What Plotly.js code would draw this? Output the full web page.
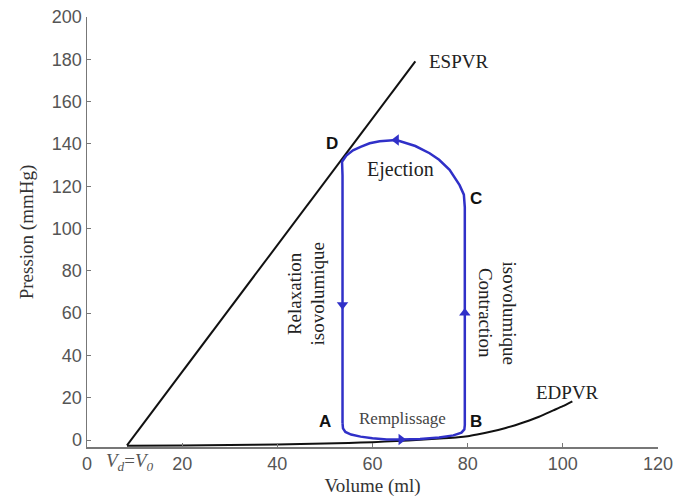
<!DOCTYPE html>
<html>
<head>
<meta charset="utf-8">
<script src="https://cdn.plot.ly/plotly-3.0.1.min.js"></script>
<style>html,body{margin:0;padding:0;background:#fff;}#chart{width:678px;height:502px;}</style>
</head>
<body>
<div id="chart"></div>
<script>
// ESPVR (end-systolic pressure-volume relation)
var espvrVolume = [8.4, 69];
var espvrPressure = [-2.5, 179];

// EDPVR (end-diastolic pressure-volume relation)
var edpvrVolume = [8.4, 20, 30, 40, 50, 55, 60, 65, 70, 75, 78, 80, 82, 85, 88, 90, 92, 95, 98, 100, 102];
var edpvrPressure = [-2.7, -2.6, -2.4, -2.1, -1.7, -1.4, -1.0, -0.5, 0.1, 0.8, 1.3, 1.8, 2.6, 4.0, 5.7, 7.0, 8.5, 11.0, 14.0, 16.0, 18.3];

// Pressure-volume loop (A -> B -> C -> D -> A)
var loopVolume = [53.7, 53.8, 54.3, 55.5, 57.5, 60, 63, 66, 70, 74, 77, 78.7, 79.3, 79.4, 79.4, 79.2, 78.3, 76.2, 74, 72, 69, 65, 61.5, 59.4, 57.5, 55.9, 54.5, 53.6, 53.7, 53.7];
var loopPressure = [8, 5.5, 3.8, 2.6, 1.6, 0.8, 0.3, 0.2, 0.5, 1.2, 2.2, 3.5, 5, 7, 110, 116, 120.5, 127.7, 132.5, 135.6, 139, 141.8, 141.3, 140.3, 138.6, 137, 134.5, 131.6, 125, 8];

// direction arrows on the loop
var arrowVolume = [66, 79.4, 65, 53.7];
var arrowPressure = [0.2, 60, 141.8, 64];
var arrowSymbols = ['triangle-right', 'triangle-up', 'triangle-left', 'triangle-down'];

// point labels
var pointNames = ['A', 'B', 'C', 'D'];
var pointVolume = [50, 81.8, 81.8, 51.4];
var pointPressure = [8.8, 8.8, 114.3, 140.3];

var xTicks = [0, 20, 40, 60, 80, 100, 120];
var yTicks = [0, 20, 40, 60, 80, 100, 120, 140, 160, 180, 200];

var blue = '#3030c8';
var serif = '"Liberation Serif", "Times New Roman", serif';
var sans = '"Liberation Sans", Arial, sans-serif';

var traces = [
  {x: espvrVolume, y: espvrPressure, mode: 'lines', line: {color: '#111', width: 2}, name: 'ESPVR', hoverinfo: 'skip'},
  {x: edpvrVolume, y: edpvrPressure, mode: 'lines', line: {color: '#111', width: 2, shape: 'spline', smoothing: 0.6}, name: 'EDPVR', hoverinfo: 'skip'},
  {x: loopVolume, y: loopPressure, mode: 'lines', line: {color: blue, width: 2.5}, name: 'Boucle PV'},
  {x: arrowVolume, y: arrowPressure, mode: 'markers', marker: {symbol: arrowSymbols, size: 10, color: blue}, name: 'sens'}
];

var annotations = [];
for (var i = 0; i < pointNames.length; i++) {
  annotations.push({x: pointVolume[i], y: pointPressure[i], text: '<b>' + pointNames[i] + '</b>', showarrow: false,
    font: {family: sans, size: 17, color: '#111'}});
}
annotations.push({x: 71.5, y: 179, xanchor: 'left', text: 'ESPVR', showarrow: false, font: {family: serif, size: 19, color: '#222'}});
annotations.push({x: 94, y: 22.3, xanchor: 'left', text: 'EDPVR', showarrow: false, font: {family: serif, size: 19, color: '#222'}});
annotations.push({x: 65.9, y: 127.7, text: 'Ejection', showarrow: false, font: {family: serif, size: 20, color: '#222'}});
annotations.push({x: 66.4, y: 10.4, text: 'Remplissage', showarrow: false, font: {family: serif, size: 17, color: '#444'}});
annotations.push({x: 43.6, y: 69.2, text: 'Relaxation', textangle: -90, showarrow: false, font: {family: serif, size: 19, color: '#222'}});
annotations.push({x: 48.5, y: 69.2, text: 'isovolumique', textangle: -90, showarrow: false, font: {family: serif, size: 19, color: '#222'}});
annotations.push({x: 83.9, y: 60, text: 'Contraction', textangle: 90, showarrow: false, font: {family: serif, size: 19, color: '#222'}});
annotations.push({x: 88.8, y: 60, text: 'isovolumique', textangle: 90, showarrow: false, font: {family: serif, size: 19, color: '#222'}});
annotations.push({x: 9.1, xref: 'x', y: -0.035, yref: 'paper', yanchor: 'middle',
  text: '<i>V</i><sub><i>d</i></sub>=<i>V</i><sub><i>0</i></sub>', showarrow: false, font: {family: serif, size: 19, color: '#555'}});

var layout = {
  width: 678, height: 502,
  margin: {l: 87, r: 20, t: 17, b: 55, pad: 0},
  paper_bgcolor: '#fff', plot_bgcolor: '#fff',
  showlegend: false,
  xaxis: {
    range: [0, 120], tickvals: xTicks, ticks: 'inside', ticklen: 4, tickcolor: '#777',
    showline: true, linecolor: '#777', linewidth: 1.5, showgrid: false, zeroline: false,
    tickfont: {family: sans, size: 18, color: '#555'},
    title: {text: 'Volume (ml)', font: {family: serif, size: 19, color: '#333'}, standoff: 5}
  },
  yaxis: {
    range: [-3.3, 200], tickvals: yTicks, ticks: 'inside', ticklen: 4, tickcolor: '#777',
    showline: true, linecolor: '#777', linewidth: 1.5, showgrid: false, zeroline: false,
    tickfont: {family: sans, size: 18, color: '#555'},
    title: {text: 'Pression (mmHg)', font: {family: serif, size: 19, color: '#333'}, standoff: 13}
  },
  annotations: annotations
};

Plotly.newPlot('chart', traces, layout, {displayModeBar: false, staticPlot: true});
</script>
</body>
</html>
